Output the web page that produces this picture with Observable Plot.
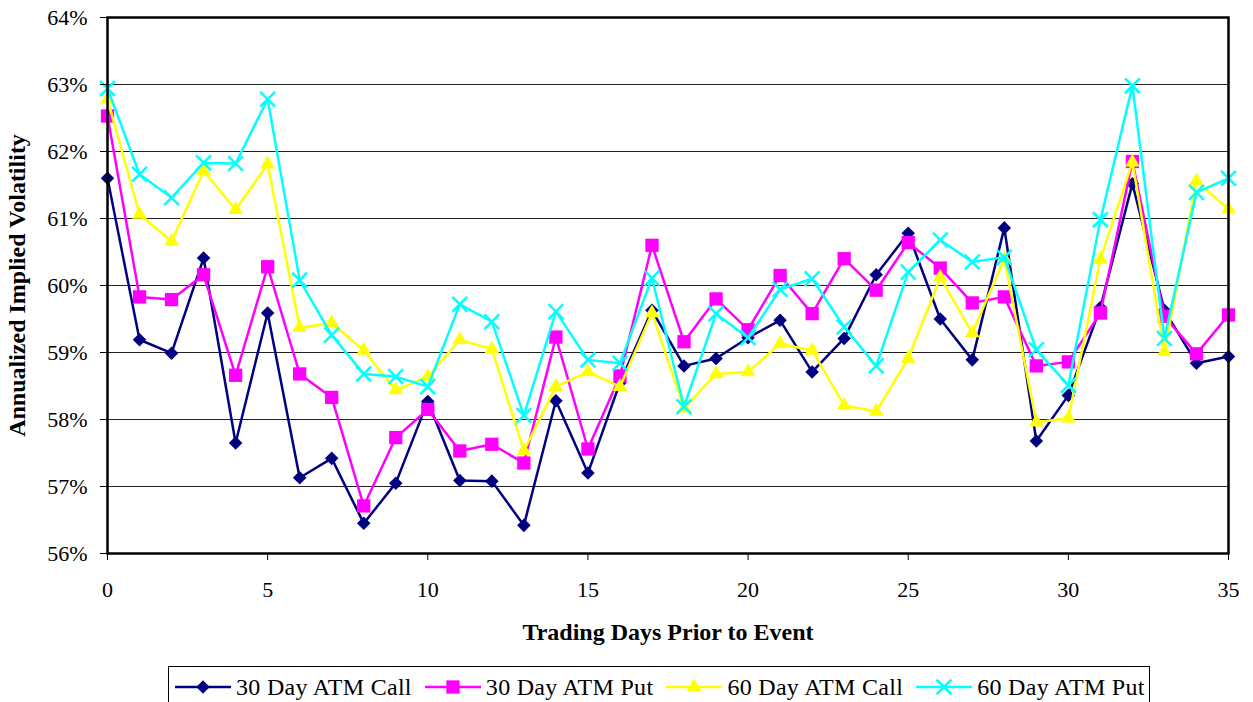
<!DOCTYPE html>
<html>
<head>
<meta charset="utf-8">
<script src="https://cdn.jsdelivr.net/npm/d3@7"></script>
<script src="https://cdn.jsdelivr.net/npm/@observablehq/plot@0.6"></script>
<style>
  body { margin: 0; background: #fff; font-family: "Liberation Serif", "Times New Roman", serif; }
  #wrap { position: relative; width: 1253px; height: 702px; overflow: hidden; background: #fff; }
  #title { position: absolute; left: 0; top: -29px; width: 1334px; text-align: center; font-size: 31px; font-weight: bold; line-height: 32px; white-space: nowrap; }
  #chart { position: absolute; left: 0; top: 0; }
  #legend { position: absolute; left: 168px; top: 666px; width: 982px; height: 60px; border: 1px solid #000; box-sizing: border-box; display: flex; align-items: flex-start; padding: 7px 0 0 6px; }
  .item { display: flex; align-items: center; margin-right: 13px; font-size: 24px; line-height: 26px; white-space: nowrap; }
  .item span { letter-spacing: 0.3px; }
  .item svg { margin-right: 5px; }
  g[aria-label$="axis label"] { font-weight: bold; font-size: 24px; }
</style>
</head>
<body>
<div id="wrap">
  <div id="title">Absolute Change in Implied Volatility</div>
  <div id="chart"></div>
  <div id="legend"></div>
</div>
<script>
// ---- data ----
const days = [0,1,2,3,4,5,6,7,8,9,10,11,12,13,14,15,16,17,18,19,20,21,22,23,24,25,26,27,28,29,30,31,32,33,34,35];
const call30 = [61.60,59.19,58.99,60.41,57.65,59.59,57.13,57.42,56.45,57.05,58.27,57.09,57.08,56.42,58.28,57.20,58.55,59.63,58.80,58.91,59.22,59.48,58.71,59.21,60.16,60.78,59.50,58.89,60.86,57.68,58.36,59.67,61.52,59.63,58.84,58.94];
const put30  = [62.53,59.83,59.79,60.16,58.66,60.28,58.68,58.33,56.71,57.73,58.15,57.53,57.63,57.35,59.23,57.56,58.65,60.60,59.16,59.80,59.34,60.15,59.58,60.40,59.93,60.64,60.26,59.74,59.83,58.80,58.86,59.59,61.85,59.54,58.98,59.56];
const call60 = [62.78,61.06,60.66,61.71,61.13,61.81,59.37,59.44,59.03,58.44,58.64,59.19,59.05,57.53,58.49,58.71,58.49,59.59,58.17,58.68,58.71,59.13,59.03,58.21,58.12,58.91,60.12,59.29,60.40,57.96,58.02,60.39,61.84,59.01,61.56,61.14];
const put60  = [62.94,61.66,61.31,61.83,61.82,62.78,60.08,59.26,58.68,58.64,58.49,59.72,59.46,58.06,59.61,58.89,58.84,60.11,58.19,59.58,59.22,59.94,60.10,59.38,58.80,60.20,60.68,60.35,60.42,59.04,58.51,60.98,62.98,59.21,61.39,61.60];
const seriesNames = ["30 Day ATM Call", "30 Day ATM Put", "60 Day ATM Call", "60 Day ATM Put"];
const yTicks = [56,57,58,59,60,61,62,63,64];
const xTicks = [0,5,10,15,20,25,30,35];

// ---- styles ----
const styles = [
  {color: "#000080", symbol: "diamond2", r: 6.1, filled: true},
  {color: "#FF00FF", symbol: "square", r: 7.5, filled: true},
  {color: "#FFFF00", symbol: "triangle", r: 5.5, filled: true},
  {color: "#00FFFF", symbol: "times", r: 6.8, filled: false}
];
const values = [call30, put30, call60, put60];
const tables = values.map((vals, i) => days.map((d, j) => ({day: d, v: vals[j], series: seriesNames[i]})));

const seriesMarks = [];
tables.forEach((rows, i) => {
  const s = styles[i];
  seriesMarks.push(Plot.line(rows, {x: "day", y: "v", stroke: s.color, strokeWidth: 2.5}));
  if (s.filled) {
    seriesMarks.push(Plot.dot(rows, {x: "day", y: "v", symbol: () => s.symbol, r: s.r, fill: s.color, stroke: "none"}));
  } else {
    seriesMarks.push(Plot.dot(rows, {x: "day", y: "v", symbol: () => s.symbol, r: s.r, stroke: s.color, strokeWidth: 2.5, fill: "none"}));
  }
});

const chart = Plot.plot({
  width: 1253,
  height: 655,
  marginLeft: 107,
  marginRight: 25,
  marginTop: 17,
  marginBottom: 102,
  style: {fontFamily: "Liberation Serif, Times New Roman, serif", color: "#000", background: "#fff", overflow: "visible"},
  x: {domain: [0, 35]},
  y: {domain: [56, 64]},
  symbol: {type: "identity"},
  marks: [
    Plot.gridY(yTicks, {stroke: "#222", strokeOpacity: 1, strokeWidth: 1}),
    ...seriesMarks,
    Plot.frame({stroke: "#000", strokeWidth: 2.5}),
    Plot.axisY({ticks: yTicks, tickFormat: d => d + "%", tickSize: 7, tickPadding: 13, fontSize: 22,
      label: "Annualized Implied Volatility", labelAnchor: "center", labelArrow: "none", labelOffset: 100}),
    Plot.axisX({ticks: xTicks, tickFormat: d => String(d), tickSize: 7, tickPadding: 21, fontSize: 22,
      label: "Trading Days Prior to Event", labelAnchor: "center", labelArrow: "none", labelOffset: 86})
  ]
});
document.getElementById("chart").appendChild(chart);

// ---- legend ----
const legend = document.getElementById("legend");
seriesNames.forEach((name, i) => {
  const s = styles[i];
  const item = document.createElement("div");
  item.className = "item";
  const sw = d3.create("svg").attr("width", 56).attr("height", 24);
  sw.append("line").attr("x1", 0).attr("x2", 56).attr("y1", 12).attr("y2", 12).attr("stroke", s.color).attr("stroke-width", 2.5);
  const symMap = {diamond2: d3.symbolDiamond2, square: d3.symbolSquare, triangle: d3.symbolTriangle, times: d3.symbolTimes};
  const path = d3.symbol(symMap[s.symbol], Math.PI * s.r * s.r)();
  const p = sw.append("path").attr("d", path).attr("transform", "translate(28,12)");
  if (s.filled) p.attr("fill", s.color); else p.attr("fill", "none").attr("stroke", s.color).attr("stroke-width", 2.5);
  item.appendChild(sw.node());
  const t = document.createElement("span");
  t.textContent = name;
  item.appendChild(t);
  legend.appendChild(item);
});
</script>
</body>
</html>
